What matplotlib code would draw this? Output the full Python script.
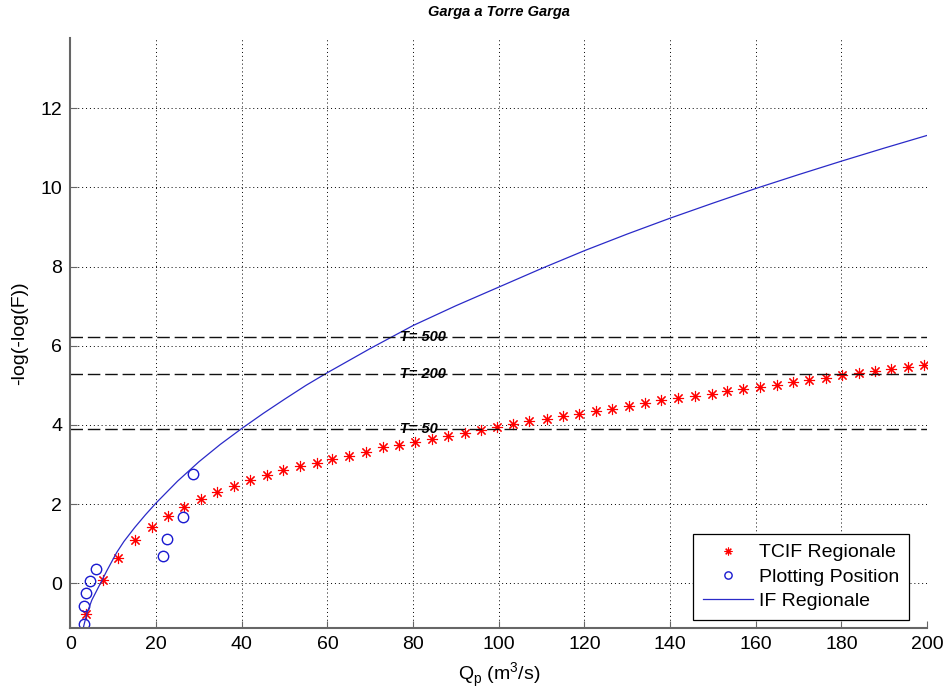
import numpy as np
import matplotlib
matplotlib.use('Agg')
import matplotlib.pyplot as plt

plt.rcParams['font.family'] = ['Liberation Sans', 'DejaVu Sans']

# TCIF regionale (red stars)
tcif_q = [3.6, 7.6, 11.2, 15.1, 19.0, 22.7, 26.6, 30.5, 34.2, 38.1,
          42.0, 45.9, 49.6, 53.5, 57.5, 61.1, 65.0, 68.9, 73.0, 76.6,
          80.4, 84.3, 88.2, 92.1, 95.8, 99.7, 103.4, 107.1, 111.2, 115.0,
          118.7, 122.6, 126.4, 130.3, 134.1, 138.0, 141.9, 145.8, 149.7, 153.4,
          157.1, 161.0, 165.0, 168.8, 172.5, 176.4, 180.2, 184.1, 187.9, 191.6,
          195.5, 199.4]
tcif_y = [-0.77, 0.08, 0.65, 1.09, 1.43, 1.70, 1.93, 2.13, 2.30, 2.46,
          2.60, 2.74, 2.85, 2.97, 3.04, 3.15, 3.22, 3.32, 3.43, 3.50,
          3.57, 3.65, 3.71, 3.80, 3.88, 3.95, 4.03, 4.09, 4.15, 4.22,
          4.28, 4.36, 4.41, 4.47, 4.56, 4.62, 4.67, 4.72, 4.78, 4.85,
          4.91, 4.96, 5.02, 5.08, 5.13, 5.19, 5.25, 5.30, 5.36, 5.42,
          5.46, 5.51]

# plotting position (blue circles)
pp_q = [3.2, 3.2, 3.6, 4.6, 5.9, 21.6, 22.5, 26.3, 28.7]
pp_y = [-1.03, -0.57, -0.24, 0.06, 0.37, 0.70, 1.11, 1.67, 2.76]

# IF regionale (blue line)
if_q = [3.0, 3.8, 5.0, 6.9, 8.5, 10.8, 12.5, 15, 17.5, 20, 25, 30, 35, 40, 45,
        50, 55, 60, 70, 80, 90, 100, 110, 120, 130, 140, 150, 160, 170, 180,
        190, 200]
if_y = [-1.12, -0.77, -0.42, -0.02, 0.32, 0.78, 1.06, 1.41, 1.73, 2.03, 2.58,
        3.07, 3.51, 3.91, 4.29, 4.65, 5.0, 5.32, 5.93, 6.51, 7.01, 7.48, 7.95,
        8.4, 8.82, 9.22, 9.6, 9.97, 10.32, 10.66, 10.99, 11.31]

# return period lines
T_labels = ['T= 50', 'T= 200', 'T= 500']
T_vals = [3.902, 5.296, 6.214]

fig = plt.figure(figsize=(9.51, 7.0), dpi=100)
ax = fig.add_axes([0.0741, 0.1033, 0.9007, 0.8424])

ax.plot(tcif_q, tcif_y, linestyle='none', marker=(8, 2, 0), markersize=8,
        color='red', markeredgewidth=0.8, label='TCIF Regionale')
ax.plot(pp_q, pp_y, linestyle='none', marker='o', markersize=7.5,
        markerfacecolor='none', markeredgecolor='#1a1ad0', markeredgewidth=1.0,
        label='Plotting Position')
ax.plot(if_q, if_y, color='#2a2ac8', lw=0.9, label='IF Regionale')

for lab, v in zip(T_labels, T_vals):
    ax.axhline(v, color='#111111', lw=1.0, dashes=(9, 3.5))
    ax.text(77, v, lab, fontsize=10.5, fontweight='bold', style='italic',
            va='center', ha='left')

ax.set_xlim(0, 200)
ax.set_ylim(-1.12, 13.77)
ax.set_xticks(np.arange(0, 201, 20))
ax.set_yticks(np.arange(0, 13, 2))
ax.grid(True, color='black', linestyle=(0, (1, 3)), lw=0.7)
ax.tick_params(direction='in', length=5, labelsize=14, color='#666666', pad=6)
for s in ['top', 'right']:
    ax.spines[s].set_visible(False)
for s in ['left', 'bottom']:
    ax.spines[s].set_color('#666666')
    ax.spines[s].set_linewidth(1.5)

ax.set_xlabel('Q$_\\mathregular{p}$ (m$^\\mathregular{3}$/s)', fontsize=14, labelpad=6)
ax.set_ylabel('-log(-log(F))', fontsize=14, labelpad=9)
ax.set_title('Garga a Torre Garga', fontsize=10.5, fontweight='bold',
             style='italic', pad=16)

leg = ax.legend(loc='lower right', bbox_to_anchor=(0.979, 0.013),
                borderaxespad=0, fontsize=14, fancybox=False, framealpha=1,
                edgecolor='black', labelspacing=0.35, handlelength=2.6,
                handletextpad=0.3, borderpad=0.5, markerscale=0.7)
leg.get_frame().set_linewidth(0.9)

fig.savefig('out.png', dpi=100)
